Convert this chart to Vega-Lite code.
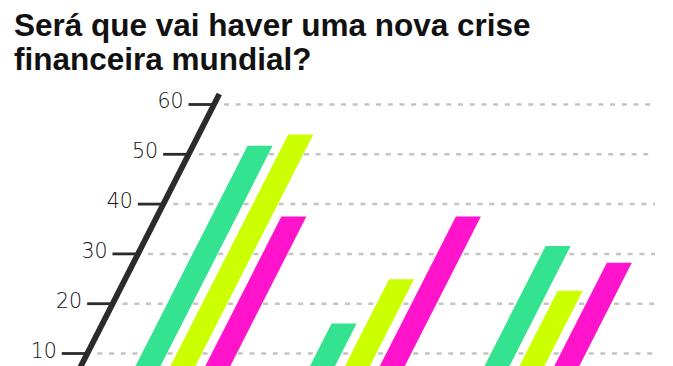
{
  "$schema": "https://vega.github.io/schema/vega-lite/v6.json",
  "width": 673,
  "height": 278,
  "autosize": {"type": "none"},
  "padding": {"left": 0, "right": 0, "top": 88, "bottom": 0},
  "background": "white",
  "config": {"view": {"stroke": null}},
  "title": {
    "text": ["Será que vai haver uma nova crise", "financeira mundial?"],
    "anchor": "start",
    "frame": "group",
    "font": "Liberation Sans",
    "fontSize": 31.5,
    "fontWeight": "bold",
    "color": "#111111",
    "lineHeight": 34,
    "offset": 12,
    "dx": 14
  },
  "datasets": {
    "respostas": [
      {"grupo": "Grupo 1", "serie": "Série A", "valor": 51.7},
      {"grupo": "Grupo 1", "serie": "Série B", "valor": 54.0},
      {"grupo": "Grupo 1", "serie": "Série C", "valor": 37.5},
      {"grupo": "Grupo 2", "serie": "Série A", "valor": 16.0},
      {"grupo": "Grupo 2", "serie": "Série B", "valor": 24.9},
      {"grupo": "Grupo 2", "serie": "Série C", "valor": 37.5},
      {"grupo": "Grupo 3", "serie": "Série A", "valor": 31.6},
      {"grupo": "Grupo 3", "serie": "Série B", "valor": 22.6},
      {"grupo": "Grupo 3", "serie": "Série C", "valor": 28.2}
    ],
    "escala": [
      {"tick": 10}, {"tick": 20}, {"tick": 30}, {"tick": 40}, {"tick": 50}, {"tick": 60}
    ]
  },
  "layer": [
    {
      "data": {"name": "escala"},
      "transform": [{"calculate": "1.7754 + 0.07261 * datum.tick + 0.2865", "as": "g0"}],
      "mark": {"type": "rule", "color": "#c4c4c4", "strokeWidth": 2.5, "strokeDash": [5, 6.7]},
      "encoding": {
        "x": {"field": "g0", "type": "quantitative", "scale": {"domain": [0, 19.2837], "nice": false, "zero": false}, "axis": null},
        "x2": {"datum": 18.768},
        "y": {"field": "tick", "type": "quantitative", "scale": {"domain": [7.49, 63.313], "nice": false, "zero": false}, "axis": null}
      }
    },
    {
      "data": {"name": "escala"},
      "transform": [
        {"calculate": "1.7754 + 0.07261 * datum.tick", "as": "t1"},
        {"calculate": "datum.t1 - 0.7307", "as": "t0"}
      ],
      "mark": {"type": "rule", "color": "#2b2b2b", "strokeWidth": 2.8},
      "encoding": {
        "x": {"field": "t0", "type": "quantitative", "scale": {"domain": [0, 19.2837], "nice": false, "zero": false}, "axis": null},
        "x2": {"field": "t1"},
        "y": {"field": "tick", "type": "quantitative", "scale": {"domain": [7.49, 63.313], "nice": false, "zero": false}, "axis": null}
      }
    },
    {
      "data": {"name": "escala"},
      "transform": [
        {"calculate": "1.7754 + 0.07261 * datum.tick - 0.7307", "as": "t0"}
      ],
      "mark": {"type": "text", "align": "right", "baseline": "alphabetic", "dx": -5, "dy": 4, "font": "DejaVu Sans", "fontWeight": 200, "fontSize": 20.5, "color": "#111111"},
      "encoding": {
        "x": {"field": "t0", "type": "quantitative", "scale": {"domain": [0, 19.2837], "nice": false, "zero": false}, "axis": null},
        "y": {"field": "tick", "type": "quantitative", "scale": {"domain": [7.49, 63.313], "nice": false, "zero": false}, "axis": null},
        "text": {"field": "tick", "type": "quantitative"}
      }
    },
    {
      "data": {"values": [{}]},
      "mark": {"type": "rule", "color": "#2b2b2b", "strokeWidth": 5.8, "strokeCap": "butt", "clip": true},
      "encoding": {
        "x": {"datum": 1.7754, "type": "quantitative", "scale": {"domain": [0, 19.2837], "nice": false, "zero": false}, "axis": null},
        "x2": {"datum": 6.2845},
        "y": {"datum": 0, "type": "quantitative", "scale": {"domain": [7.49, 63.313], "nice": false, "zero": false}, "axis": null},
        "y2": {"datum": 62.1}
      }
    },
    {
      "data": {"name": "respostas"},
      "transform": [
        {"calculate": "indexof(['Grupo 1', 'Grupo 2', 'Grupo 3'], datum.grupo)", "as": "gi"},
        {"calculate": "indexof(['Série A', 'Série B', 'Série C'], datum.serie)", "as": "si"},
        {"calculate": "0", "as": "base"},
        {"fold": ["base", "valor"], "as": ["ponta", "y"]},
        {"calculate": "3.3395 + 5 * datum.gi + datum.si + 0.07261 * datum.y", "as": "xl"},
        {"calculate": "datum.xl + 0.7163", "as": "xr"}
      ],
      "mark": {"type": "area", "orient": "horizontal", "clip": true},
      "encoding": {
        "y": {"field": "y", "type": "quantitative", "scale": {"domain": [7.49, 63.313], "nice": false, "zero": false}, "axis": null},
        "x": {"field": "xl", "type": "quantitative", "stack": null, "scale": {"domain": [0, 19.2837], "nice": false, "zero": false}, "axis": null},
        "x2": {"field": "xr"},
        "color": {"field": "serie", "type": "nominal", "scale": {"domain": ["Série A", "Série B", "Série C"], "range": ["#33e38f", "#ccff00", "#ff14cc"]}, "legend": null},
        "detail": {"field": "grupo", "type": "nominal"}
      }
    }
  ]
}
